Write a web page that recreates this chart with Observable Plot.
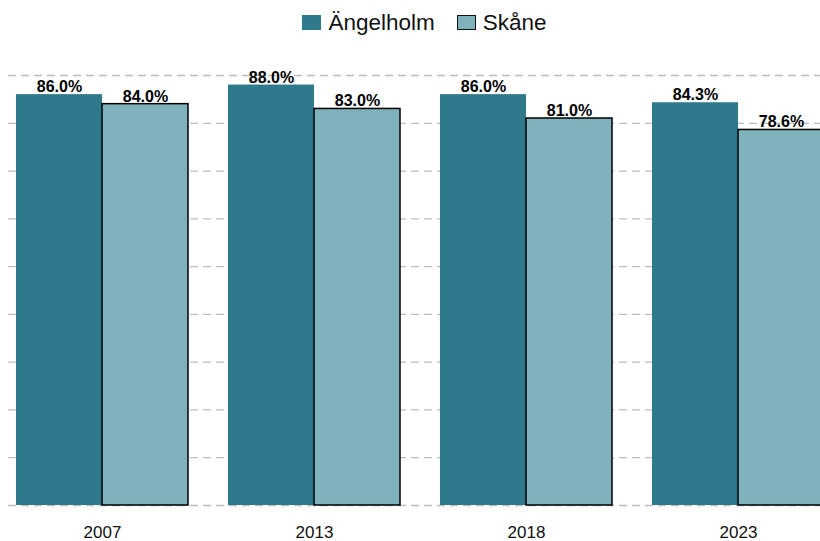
<!DOCTYPE html>
<html>
<head>
<meta charset="utf-8">
<script src="https://cdn.jsdelivr.net/npm/d3@7"></script>
<script src="https://cdn.jsdelivr.net/npm/@observablehq/plot@0.6"></script>
<style>
  html, body { margin: 0; padding: 0; background: white; }
  #wrap { width: 820px; height: 541px; overflow: hidden; font-family: "Liberation Sans", Arial, sans-serif; }
  #legend { height: 45px; display: flex; justify-content: center; align-items: center; gap: 22px; font-size: 22.5px; color: #111; padding-left: 29px; box-sizing: border-box; }
  .item { display: flex; align-items: center; gap: 7px; }
  .sw { width: 19px; height: 15px; box-sizing: border-box; }
  #chart { position: relative; width: 820px; height: 496px; }
  #chart svg { position: absolute; left: 0; top: 0; }
</style>
</head>
<body>
<div id="wrap">
  <div id="legend"></div>
  <div id="chart"></div>
</div>
<script>
const years = ["2007", "2013", "2018", "2023"];
const series = ["Ängelholm", "Skåne"];
const angelholm = [86.0, 88.0, 86.0, 84.3];
const skane = [84.0, 83.0, 81.0, 78.6];
const colors = ["#2e7a8c", "#7fb1bb"];
const gridTicks = [0, 10, 20, 30, 40, 50, 60, 70, 80, 90];

const data = years.flatMap((y, i) => [
  {year: y, series: series[0], value: angelholm[i]},
  {year: y, series: series[1], value: skane[i]}
]);

// Legend
const legend = document.getElementById("legend");
series.forEach((s, i) => {
  const item = document.createElement("div");
  item.className = "item";
  const sw = document.createElement("div");
  sw.className = "sw";
  sw.style.background = colors[i];
  if (i === 1) sw.style.border = "1.5px solid #111";
  const t = document.createElement("span");
  t.textContent = s;
  item.appendChild(sw);
  item.appendChild(t);
  legend.appendChild(item);
});

const common = {
  width: 820,
  height: 496,
  marginLeft: 8,
  marginRight: 0,
  marginTop: 30,
  marginBottom: 36,
  y: {domain: [0, 90], axis: null}
};

// Grid layer (continuous across the whole frame)
const grid = Plot.plot({
  ...common,
  style: {fontFamily: "Liberation Sans, Arial, sans-serif", background: "white"},
  marks: [
    Plot.ruleY(gridTicks, {stroke: "#bdbdbd", strokeWidth: 1.3, strokeDasharray: "8,5"})
  ]
});

// Bars layer
const bars = Plot.plot({
  ...common,
  style: {fontFamily: "Liberation Sans, Arial, sans-serif", background: "transparent"},
  fx: {domain: years, range: [16, 824], paddingInner: 40 / 212, paddingOuter: 0, label: null},
  x: {domain: series, axis: null, padding: 0},
  color: {domain: series, range: colors},
  marks: [
    Plot.barY(data.filter(d => d.series === series[0]), {fx: "year", x: "series", y: "value", fill: "series"}),
    Plot.barY(data.filter(d => d.series === series[1]), {fx: "year", x: "series", y: "value", fill: "series", stroke: "black", strokeWidth: 1.5}),
    Plot.text(data, {fx: "year", x: "series", y: "value", text: d => d.value.toFixed(1) + "%", lineAnchor: "bottom", dy: -2.5, fontWeight: "bold", fontSize: 16, fill: "black"}),
    Plot.axisFx({anchor: "bottom", tickSize: 0, tickPadding: 20, fontSize: 17, label: null, color: "#111"})
  ]
});
document.getElementById("chart").appendChild(grid);
document.getElementById("chart").appendChild(bars);
</script>
</body>
</html>
